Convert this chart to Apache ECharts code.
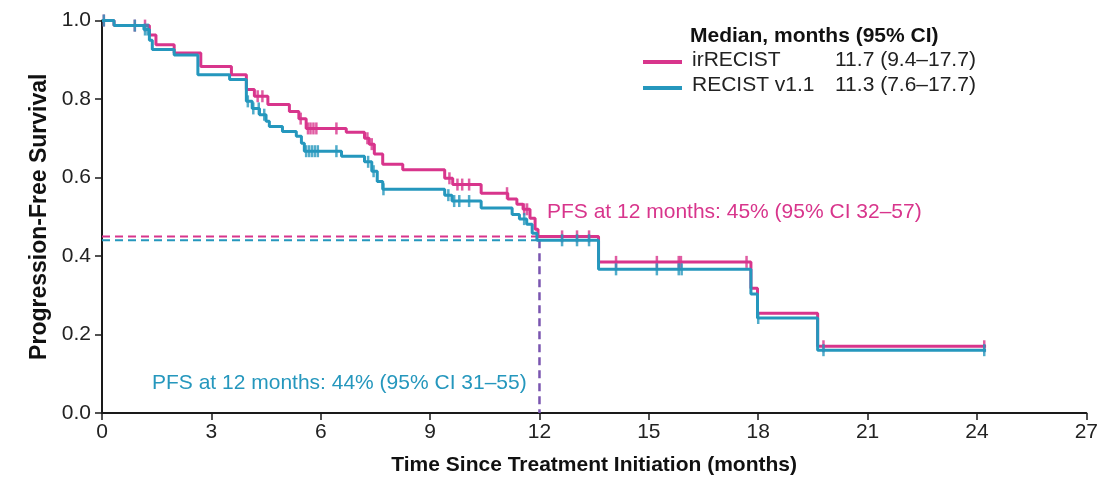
<!DOCTYPE html>
<html>
<head>
<meta charset="utf-8">
<script src="https://cdn.jsdelivr.net/npm/echarts@6/dist/echarts.min.js"></script>
<style>
html,body{margin:0;padding:0;background:#fff;}
#chart{width:1101px;height:485px;}
</style>
</head>
<body>
<div id="chart"></div>
<script>
// ---- Data ----
var xTicks = [0, 3, 6, 9, 12, 15, 18, 21, 24, 27];
var yTicks = [0.0, 0.2, 0.4, 0.6, 0.8, 1.0];

var irTimes = [0,0.33,1.3,1.48,1.98,2.71,3.55,3.96,4.18,4.55,5.14,5.4,5.6,6.7,7.2,7.33,7.47,7.7,8.25,9.4,9.62,10.4,11.13,11.38,11.55,11.74,11.88,11.96,13.62,17.8,17.98,19.63,24.25];
var irSurv  = [1,0.987,0.963,0.938,0.917,0.883,0.862,0.824,0.807,0.786,0.768,0.75,0.725,0.715,0.70,0.685,0.66,0.634,0.62,0.598,0.582,0.56,0.545,0.532,0.519,0.496,0.468,0.45,0.385,0.318,0.254,0.17,0.17];
var irCensor = [0.05,0.9,1.18,4.27,4.4,5.45,5.65,5.72,5.8,5.88,6.43,7.28,7.4,9.53,9.75,9.88,10.07,11.11,11.58,11.66,12.62,13.03,13.36,14.1,15.22,15.82,15.88,17.68,19.79,24.2];

var reTimes = [0,0.33,1.15,1.3,1.38,1.98,2.63,3.5,3.96,4.12,4.32,4.5,4.59,4.95,5.33,5.47,5.55,6.57,7.2,7.4,7.55,7.7,9.4,9.6,10.4,11.25,11.45,11.65,11.8,11.93,13.62,17.8,17.98,19.63,24.25];
var reSurv  = [1,0.987,0.977,0.95,0.926,0.912,0.862,0.85,0.794,0.776,0.76,0.743,0.73,0.717,0.705,0.687,0.667,0.654,0.64,0.616,0.59,0.57,0.555,0.54,0.522,0.506,0.494,0.481,0.458,0.44,0.366,0.303,0.242,0.16,0.16];
var reCensor = [0.05,0.9,1.18,1.25,4.0,4.15,4.3,4.45,5.6,5.68,5.76,5.84,5.92,6.43,7.3,7.45,7.72,9.5,9.66,9.8,10.07,11.58,12.62,13.03,13.36,14.1,15.22,15.82,15.9,18.0,19.79,24.2];

var landmarkMonth = 12;
var irAt12 = 0.45;
var reAt12 = 0.44;

var seriesNames = ['irRECIST', 'RECIST v1.1'];
var medians = ['11.7 (9.4\u201317.7)', '11.3 (7.6\u201317.7)'];
var legendTitle = 'Median, months (95% CI)';
var irNote = 'PFS at 12 months: 45% (95% CI 32\u201357)';
var reNote = 'PFS at 12 months: 44% (95% CI 31\u201355)';

// ---- Build ----
var PINK = '#d8358c', BLUE = '#2597bd', PURPLE = '#7a55b0', AX = '#1a1a1a';
function pairs(t, s){ return t.map(function(v,i){ return [v, s[i]]; }); }
function lookup(t, s, x){ var v = s[0]; for (var i=0;i<t.length;i++){ if (t[i] <= x) v = s[i]; } return v; }
function censorPts(c, t, s){ return c.map(function(x){ return [x, lookup(t, s, x)]; }); }

var chart = echarts.init(document.getElementById('chart'), null, {renderer:'canvas'});
var font = '"Liberation Sans", Arial, Helvetica, sans-serif';

chart.setOption({
  animation: false,
  backgroundColor: '#fff',
  grid: {left: 102, right: 13, top: 20.5, bottom: 72},
  xAxis: {
    type: 'value', min: 0, max: 27, interval: 3,
    name: 'Time Since Treatment Initiation (months)',
    nameLocation: 'middle', nameGap: 42,
    nameTextStyle: {fontFamily: font, fontSize: 21, fontWeight: 'bold', color: '#111'},
    axisLine: {show: true, lineStyle: {color: AX, width: 2}},
    axisTick: {show: true, length: 7, lineStyle: {color: AX, width: 1.5}},
    axisLabel: {fontFamily: font, fontSize: 21, color: '#222', margin: 9,
      formatter: function(v){ return xTicks.indexOf(v) >= 0 ? String(v) : ''; }},
    splitLine: {show: false}
  },
  yAxis: {
    type: 'value', min: 0, max: 1, interval: 0.2,
    name: 'Progression-Free Survival',
    nameLocation: 'middle', nameGap: 50,
    nameTextStyle: {fontFamily: font, fontSize: 23, fontWeight: 'bold', color: '#111'},
    axisLine: {show: true, lineStyle: {color: AX, width: 2}},
    axisTick: {show: true, length: 7, lineStyle: {color: AX, width: 1.5}},
    axisLabel: {fontFamily: font, fontSize: 21, color: '#222', margin: 11,
      formatter: function(v){ return v.toFixed(1); }},
    splitLine: {show: false}
  },
  series: [
    {type:'line', data:[[0, irAt12],[landmarkMonth, irAt12]], symbol:'none', silent:true,
      lineStyle:{color:PINK, width:2, type:[8,5]}, z:1},
    {type:'line', data:[[0, reAt12],[landmarkMonth, reAt12]], symbol:'none', silent:true,
      lineStyle:{color:BLUE, width:2, type:[8,5]}, z:1},
    {type:'line', data:[[landmarkMonth, reAt12],[landmarkMonth, 0]], symbol:'none', silent:true,
      lineStyle:{color:PURPLE, width:2.5, type:[8,5]}, z:1},
    {name: seriesNames[0], type:'line', step:'end', data: pairs(irTimes, irSurv), symbol:'none',
      lineStyle:{color:PINK, width:3}, z:2},
    {type:'scatter', data: censorPts(irCensor, irTimes, irSurv), symbol:'rect', symbolSize:[2.5, 12],
      itemStyle:{color:PINK}, z:3},
    {name: seriesNames[1], type:'line', step:'end', data: pairs(reTimes, reSurv), symbol:'none',
      lineStyle:{color:BLUE, width:3}, z:4},
    {type:'scatter', data: censorPts(reCensor, reTimes, reSurv), symbol:'rect', symbolSize:[2.5, 12],
      itemStyle:{color:BLUE}, z:5}
  ],
  graphic: [
    {type:'text', left: 690, top: 26, style:{text: legendTitle, font: 'bold 21px ' + font, fill:'#111'}},
    {type:'rect', shape:{x:643, y:60, width:39, height:4}, style:{fill:PINK}},
    {type:'rect', shape:{x:643, y:86, width:39, height:4}, style:{fill:BLUE}},
    {type:'text', left: 692, top: 50, style:{text: seriesNames[0], font: '21px ' + font, fill:'#222'}},
    {type:'text', left: 692, top: 75, style:{text: seriesNames[1], font: '21px ' + font, fill:'#222'}},
    {type:'text', left: 835, top: 50, style:{text: medians[0], font: '21px ' + font, fill:'#222'}},
    {type:'text', left: 835, top: 75, style:{text: medians[1], font: '21px ' + font, fill:'#222'}},
    {type:'text', left: 547, top: 202, style:{text: irNote, font: '21px ' + font, fill:PINK}},
    {type:'text', left: 152, top: 373, style:{text: reNote, font: '21px ' + font, fill:BLUE}}
  ]
});
</script>
</body>
</html>
